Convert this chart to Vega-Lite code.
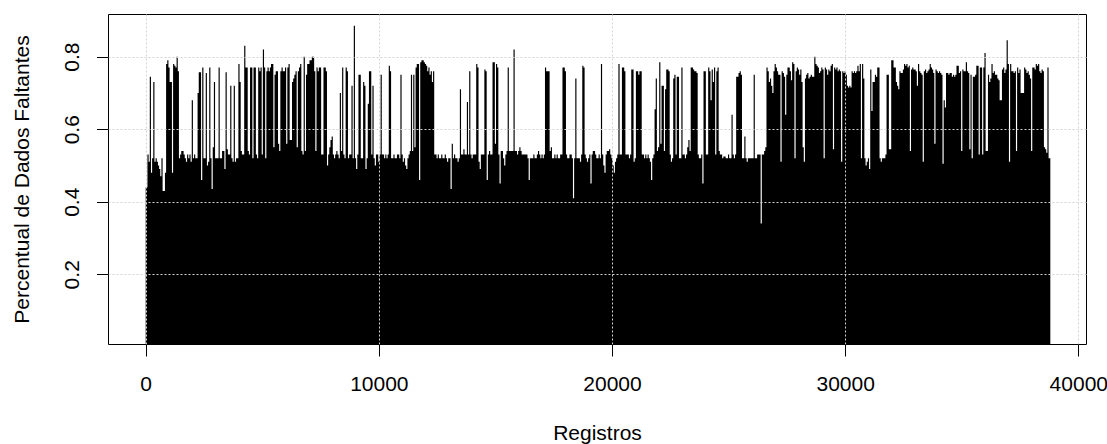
{
  "$schema": "https://vega.github.io/schema/vega-lite/v6.json",
  "width": 978,
  "height": 330,
  "autosize": {"type": "none"},
  "padding": {"left": 108, "top": 14, "right": 21, "bottom": 100},
  "background": "white",
  "config": {
    "view": {"stroke": "black", "strokeWidth": 1},
    "font": "Liberation Sans",
    "axis": {
      "labelFont": "Liberation Sans",
      "labelFontSize": 21,
      "labelColor": "black",
      "titleFont": "Liberation Sans",
      "titleFontSize": 21,
      "titleFontWeight": "normal",
      "titleColor": "black",
      "tickColor": "black",
      "tickWidth": 1,
      "domain": false,
      "grid": true,
      "gridColor": "#D3D3D3",
      "gridDash": [2, 2],
      "gridWidth": 1,
      "labelFlush": false,
      "labelOverlap": false,
      "zindex": 1
    }
  },
  "data": {
    "values": [
      {"reg":0,"pct":0.44},{"reg":50,"pct":0.44},{"reg":100,"pct":0.53},{"reg":150,"pct":0.51},{"reg":200,"pct":0.745},{"reg":250,"pct":0.48},{"reg":300,"pct":0.52},{"reg":350,"pct":0.73},{"reg":400,"pct":0.51},{"reg":450,"pct":0.52},
      {"reg":500,"pct":0.51},{"reg":550,"pct":0.50},{"reg":600,"pct":0.49},{"reg":650,"pct":0.47},{"reg":700,"pct":0.52},{"reg":750,"pct":0.43},{"reg":800,"pct":0.43},{"reg":850,"pct":0.48},{"reg":900,"pct":0.78},{"reg":950,"pct":0.79},
      {"reg":1000,"pct":0.77},{"reg":1050,"pct":0.73},{"reg":1100,"pct":0.73},{"reg":1150,"pct":0.48},{"reg":1200,"pct":0.78},{"reg":1250,"pct":0.775},{"reg":1300,"pct":0.77},{"reg":1350,"pct":0.80},{"reg":1400,"pct":0.76},{"reg":1450,"pct":0.52},
      {"reg":1500,"pct":0.53},{"reg":1550,"pct":0.54},{"reg":1600,"pct":0.54},{"reg":1650,"pct":0.53},{"reg":1700,"pct":0.52},{"reg":1750,"pct":0.51},{"reg":1800,"pct":0.53},{"reg":1850,"pct":0.52},{"reg":1900,"pct":0.53},{"reg":1950,"pct":0.51},
      {"reg":2000,"pct":0.68},{"reg":2050,"pct":0.52},{"reg":2100,"pct":0.53},{"reg":2150,"pct":0.52},{"reg":2200,"pct":0.52},{"reg":2250,"pct":0.70},{"reg":2300,"pct":0.757},{"reg":2350,"pct":0.757},{"reg":2400,"pct":0.46},{"reg":2450,"pct":0.77},
      {"reg":2500,"pct":0.52},{"reg":2550,"pct":0.52},{"reg":2600,"pct":0.755},{"reg":2650,"pct":0.50},{"reg":2700,"pct":0.51},{"reg":2750,"pct":0.77},{"reg":2800,"pct":0.52},{"reg":2850,"pct":0.435},{"reg":2900,"pct":0.55},{"reg":2950,"pct":0.73},
      {"reg":3000,"pct":0.52},{"reg":3050,"pct":0.52},{"reg":3100,"pct":0.52},{"reg":3150,"pct":0.77},{"reg":3200,"pct":0.52},{"reg":3250,"pct":0.52},{"reg":3300,"pct":0.54},{"reg":3350,"pct":0.54},{"reg":3400,"pct":0.49},{"reg":3450,"pct":0.757},
      {"reg":3500,"pct":0.545},{"reg":3550,"pct":0.53},{"reg":3600,"pct":0.53},{"reg":3650,"pct":0.72},
      {"reg":3700,"pct":0.52},{"reg":3750,"pct":0.51},{"reg":3800,"pct":0.72},{"reg":3850,"pct":0.51},{"reg":3900,"pct":0.52},{"reg":3950,"pct":0.52},
      {"reg":4000,"pct":0.78},{"reg":4050,"pct":0.73},{"reg":4100,"pct":0.54},{"reg":4150,"pct":0.53},{"reg":4200,"pct":0.53},{"reg":4250,"pct":0.83},{"reg":4300,"pct":0.77},{"reg":4350,"pct":0.77},{"reg":4400,"pct":0.54},{"reg":4450,"pct":0.53},
      {"reg":4500,"pct":0.77},{"reg":4550,"pct":0.77},{"reg":4600,"pct":0.52},{"reg":4650,"pct":0.77},{"reg":4700,"pct":0.77},{"reg":4750,"pct":0.53},{"reg":4800,"pct":0.52},{"reg":4850,"pct":0.77},{"reg":4900,"pct":0.76},{"reg":4950,"pct":0.77},
      {"reg":5000,"pct":0.53},{"reg":5050,"pct":0.82},{"reg":5100,"pct":0.77},{"reg":5150,"pct":0.52},{"reg":5200,"pct":0.76},{"reg":5250,"pct":0.77},{"reg":5300,"pct":0.76},{"reg":5350,"pct":0.77},{"reg":5400,"pct":0.78},{"reg":5450,"pct":0.78},
      {"reg":5500,"pct":0.55},{"reg":5550,"pct":0.75},{"reg":5600,"pct":0.76},{"reg":5650,"pct":0.76},{"reg":5700,"pct":0.56},{"reg":5750,"pct":0.54},{"reg":5800,"pct":0.76},{"reg":5850,"pct":0.77},{"reg":5900,"pct":0.76},{"reg":5950,"pct":0.76},
      {"reg":6000,"pct":0.77},{"reg":6050,"pct":0.56},{"reg":6100,"pct":0.77},{"reg":6150,"pct":0.78},{"reg":6200,"pct":0.57},{"reg":6250,"pct":0.57},{"reg":6300,"pct":0.73},{"reg":6350,"pct":0.74},{"reg":6400,"pct":0.75},{"reg":6450,"pct":0.76},
      {"reg":6500,"pct":0.55},{"reg":6550,"pct":0.76},{"reg":6600,"pct":0.77},{"reg":6650,"pct":0.78},{"reg":6700,"pct":0.54},{"reg":6750,"pct":0.53},{"reg":6800,"pct":0.80},{"reg":6850,"pct":0.54},{"reg":6900,"pct":0.75},{"reg":6950,"pct":0.78},
      {"reg":7000,"pct":0.78},{"reg":7050,"pct":0.79},{"reg":7100,"pct":0.79},{"reg":7150,"pct":0.80},{"reg":7200,"pct":0.80},{"reg":7250,"pct":0.76},{"reg":7300,"pct":0.54},{"reg":7350,"pct":0.77},{"reg":7400,"pct":0.76},{"reg":7450,"pct":0.77},
      {"reg":7500,"pct":0.77},{"reg":7550,"pct":0.53},{"reg":7600,"pct":0.53},{"reg":7650,"pct":0.77},{"reg":7700,"pct":0.77},{"reg":7750,"pct":0.76},{"reg":7800,"pct":0.50},{"reg":7850,"pct":0.53},{"reg":7900,"pct":0.55},{"reg":7950,"pct":0.57},
      {"reg":8000,"pct":0.58},{"reg":8050,"pct":0.53},{"reg":8100,"pct":0.52},{"reg":8150,"pct":0.53},{"reg":8200,"pct":0.54},{"reg":8250,"pct":0.53},{"reg":8300,"pct":0.52},{"reg":8350,"pct":0.70},{"reg":8400,"pct":0.54},{"reg":8450,"pct":0.77},
      {"reg":8500,"pct":0.53},{"reg":8550,"pct":0.52},{"reg":8600,"pct":0.77},{"reg":8650,"pct":0.76},{"reg":8700,"pct":0.52},{"reg":8750,"pct":0.53},{"reg":8800,"pct":0.53},{"reg":8850,"pct":0.72},{"reg":8900,"pct":0.52},{"reg":8950,"pct":0.885},
      {"reg":9000,"pct":0.52},{"reg":9050,"pct":0.49},{"reg":9100,"pct":0.53},{"reg":9150,"pct":0.75},{"reg":9200,"pct":0.75},{"reg":9250,"pct":0.52},{"reg":9300,"pct":0.52},{"reg":9350,"pct":0.73},{"reg":9400,"pct":0.72},{"reg":9450,"pct":0.49},
      {"reg":9500,"pct":0.52},{"reg":9550,"pct":0.67},{"reg":9600,"pct":0.76},{"reg":9650,"pct":0.76},{"reg":9700,"pct":0.53},{"reg":9750,"pct":0.72},{"reg":9800,"pct":0.52},{"reg":9850,"pct":0.50},{"reg":9900,"pct":0.53},{"reg":9950,"pct":0.53},
      {"reg":10000,"pct":0.51},{"reg":10050,"pct":0.53},{"reg":10100,"pct":0.75},{"reg":10150,"pct":0.53},{"reg":10200,"pct":0.53},{"reg":10250,"pct":0.52},{"reg":10300,"pct":0.53},{"reg":10350,"pct":0.52},{"reg":10400,"pct":0.53},{"reg":10450,"pct":0.775},
      {"reg":10500,"pct":0.76},{"reg":10550,"pct":0.52},{"reg":10600,"pct":0.52},{"reg":10650,"pct":0.53},{"reg":10700,"pct":0.52},{"reg":10750,"pct":0.52},{"reg":10800,"pct":0.53},{"reg":10850,"pct":0.53},{"reg":10900,"pct":0.52},{"reg":10950,"pct":0.75},
      {"reg":11000,"pct":0.53},{"reg":11050,"pct":0.51},{"reg":11100,"pct":0.52},{"reg":11150,"pct":0.50},{"reg":11200,"pct":0.49},{"reg":11250,"pct":0.52},{"reg":11300,"pct":0.53},{"reg":11350,"pct":0.54},{"reg":11400,"pct":0.75},{"reg":11450,"pct":0.54},
      {"reg":11500,"pct":0.75},{"reg":11550,"pct":0.55},{"reg":11600,"pct":0.77},{"reg":11650,"pct":0.78},{"reg":11700,"pct":0.78},{"reg":11750,"pct":0.46},{"reg":11800,"pct":0.785},{"reg":11850,"pct":0.79},{"reg":11900,"pct":0.79},{"reg":11950,"pct":0.785},
      {"reg":12000,"pct":0.78},{"reg":12050,"pct":0.775},{"reg":12100,"pct":0.76},{"reg":12150,"pct":0.77},{"reg":12200,"pct":0.75},{"reg":12250,"pct":0.76},{"reg":12300,"pct":0.73},{"reg":12350,"pct":0.76},{"reg":12400,"pct":0.53},{"reg":12450,"pct":0.53},
      {"reg":12500,"pct":0.52},{"reg":12550,"pct":0.53},{"reg":12600,"pct":0.52},{"reg":12650,"pct":0.52},{"reg":12700,"pct":0.53},{"reg":12750,"pct":0.52},{"reg":12800,"pct":0.52},{"reg":12850,"pct":0.53},{"reg":12900,"pct":0.52},{"reg":12950,"pct":0.51},
      {"reg":13000,"pct":0.52},{"reg":13050,"pct":0.52},{"reg":13100,"pct":0.435},{"reg":13150,"pct":0.56},{"reg":13200,"pct":0.52},{"reg":13250,"pct":0.53},{"reg":13300,"pct":0.52},{"reg":13350,"pct":0.52},{"reg":13400,"pct":0.51},{"reg":13450,"pct":0.52},
      {"reg":13500,"pct":0.71},{"reg":13550,"pct":0.53},{"reg":13600,"pct":0.53},{"reg":13650,"pct":0.545},{"reg":13700,"pct":0.53},{"reg":13750,"pct":0.53},{"reg":13800,"pct":0.675},{"reg":13850,"pct":0.53},{"reg":13900,"pct":0.76},{"reg":13950,"pct":0.53},
      {"reg":14000,"pct":0.52},{"reg":14050,"pct":0.53},{"reg":14100,"pct":0.53},{"reg":14150,"pct":0.53},{"reg":14200,"pct":0.78},{"reg":14250,"pct":0.77},{"reg":14300,"pct":0.51},{"reg":14350,"pct":0.49},{"reg":14400,"pct":0.53},{"reg":14450,"pct":0.53},
      {"reg":14500,"pct":0.53},{"reg":14550,"pct":0.765},{"reg":14600,"pct":0.76},{"reg":14650,"pct":0.46},{"reg":14700,"pct":0.53},{"reg":14750,"pct":0.54},{"reg":14800,"pct":0.53},{"reg":14850,"pct":0.53},{"reg":14900,"pct":0.785},{"reg":14950,"pct":0.785},
      {"reg":15000,"pct":0.56},{"reg":15050,"pct":0.78},{"reg":15100,"pct":0.77},{"reg":15150,"pct":0.53},{"reg":15200,"pct":0.45},{"reg":15250,"pct":0.54},{"reg":15300,"pct":0.54},{"reg":15350,"pct":0.52},{"reg":15400,"pct":0.50},{"reg":15450,"pct":0.53},
      {"reg":15500,"pct":0.54},{"reg":15550,"pct":0.77},{"reg":15600,"pct":0.54},{"reg":15650,"pct":0.54},{"reg":15700,"pct":0.54},{"reg":15750,"pct":0.54},{"reg":15800,"pct":0.82},{"reg":15850,"pct":0.54},{"reg":15900,"pct":0.54},{"reg":15950,"pct":0.53},
      {"reg":16000,"pct":0.54},{"reg":16050,"pct":0.55},{"reg":16100,"pct":0.54},{"reg":16150,"pct":0.53},{"reg":16200,"pct":0.53},{"reg":16250,"pct":0.53},{"reg":16300,"pct":0.53},{"reg":16350,"pct":0.53},{"reg":16400,"pct":0.52},{"reg":16450,"pct":0.46},
      {"reg":16500,"pct":0.52},{"reg":16550,"pct":0.52},{"reg":16600,"pct":0.52},{"reg":16650,"pct":0.53},{"reg":16700,"pct":0.52},{"reg":16750,"pct":0.52},{"reg":16800,"pct":0.53},{"reg":16850,"pct":0.54},{"reg":16900,"pct":0.53},{"reg":16950,"pct":0.52},
      {"reg":17000,"pct":0.53},{"reg":17050,"pct":0.52},{"reg":17100,"pct":0.53},{"reg":17150,"pct":0.77},{"reg":17200,"pct":0.76},{"reg":17250,"pct":0.76},{"reg":17300,"pct":0.76},{"reg":17350,"pct":0.54},{"reg":17400,"pct":0.55},{"reg":17450,"pct":0.52},
      {"reg":17500,"pct":0.52},{"reg":17550,"pct":0.53},{"reg":17600,"pct":0.52},{"reg":17650,"pct":0.53},{"reg":17700,"pct":0.52},{"reg":17750,"pct":0.52},{"reg":17800,"pct":0.53},{"reg":17850,"pct":0.53},{"reg":17900,"pct":0.77},{"reg":17950,"pct":0.77},
      {"reg":18000,"pct":0.76},{"reg":18050,"pct":0.53},{"reg":18100,"pct":0.52},{"reg":18150,"pct":0.52},{"reg":18200,"pct":0.53},{"reg":18250,"pct":0.53},{"reg":18300,"pct":0.52},{"reg":18350,"pct":0.41},{"reg":18400,"pct":0.52},{"reg":18450,"pct":0.74},
      {"reg":18500,"pct":0.52},{"reg":18550,"pct":0.52},{"reg":18600,"pct":0.52},{"reg":18650,"pct":0.51},{"reg":18700,"pct":0.53},{"reg":18750,"pct":0.775},{"reg":18800,"pct":0.77},{"reg":18850,"pct":0.53},{"reg":18900,"pct":0.52},{"reg":18950,"pct":0.51},
      {"reg":19000,"pct":0.52},{"reg":19050,"pct":0.53},{"reg":19100,"pct":0.45},{"reg":19150,"pct":0.53},{"reg":19200,"pct":0.54},{"reg":19250,"pct":0.54},{"reg":19300,"pct":0.53},{"reg":19350,"pct":0.52},{"reg":19400,"pct":0.52},{"reg":19450,"pct":0.53},
      {"reg":19500,"pct":0.52},{"reg":19550,"pct":0.78},{"reg":19600,"pct":0.53},{"reg":19650,"pct":0.50},{"reg":19700,"pct":0.48},{"reg":19750,"pct":0.53},{"reg":19800,"pct":0.54},{"reg":19850,"pct":0.54},{"reg":19900,"pct":0.545},{"reg":19950,"pct":0.53},
      {"reg":20000,"pct":0.52},{"reg":20050,"pct":0.50},{"reg":20100,"pct":0.48},{"reg":20150,"pct":0.51},{"reg":20200,"pct":0.52},{"reg":20250,"pct":0.53},{"reg":20300,"pct":0.78},{"reg":20350,"pct":0.53},{"reg":20400,"pct":0.53},{"reg":20450,"pct":0.77},
      {"reg":20500,"pct":0.77},{"reg":20550,"pct":0.76},{"reg":20600,"pct":0.53},{"reg":20650,"pct":0.53},{"reg":20700,"pct":0.53},{"reg":20750,"pct":0.52},{"reg":20800,"pct":0.53},{"reg":20850,"pct":0.765},{"reg":20900,"pct":0.765},{"reg":20950,"pct":0.51},
      {"reg":21000,"pct":0.52},{"reg":21050,"pct":0.76},{"reg":21100,"pct":0.76},{"reg":21150,"pct":0.75},{"reg":21200,"pct":0.76},{"reg":21250,"pct":0.76},{"reg":21300,"pct":0.53},{"reg":21350,"pct":0.53},{"reg":21400,"pct":0.52},{"reg":21450,"pct":0.53},
      {"reg":21500,"pct":0.52},{"reg":21550,"pct":0.53},{"reg":21600,"pct":0.52},{"reg":21650,"pct":0.51},{"reg":21700,"pct":0.46},{"reg":21750,"pct":0.52},{"reg":21800,"pct":0.53},{"reg":21850,"pct":0.655},{"reg":21900,"pct":0.74},{"reg":21950,"pct":0.54},
      {"reg":22000,"pct":0.55},{"reg":22050,"pct":0.785},{"reg":22100,"pct":0.56},{"reg":22150,"pct":0.72},{"reg":22200,"pct":0.72},{"reg":22250,"pct":0.54},{"reg":22300,"pct":0.71},{"reg":22350,"pct":0.765},{"reg":22400,"pct":0.765},{"reg":22450,"pct":0.76},
      {"reg":22500,"pct":0.53},{"reg":22550,"pct":0.51},{"reg":22600,"pct":0.52},{"reg":22650,"pct":0.74},{"reg":22700,"pct":0.75},{"reg":22750,"pct":0.53},{"reg":22800,"pct":0.745},{"reg":22850,"pct":0.745},{"reg":22900,"pct":0.52},{"reg":22950,"pct":0.52},
      {"reg":23000,"pct":0.77},{"reg":23050,"pct":0.53},{"reg":23100,"pct":0.53},{"reg":23150,"pct":0.52},{"reg":23200,"pct":0.53},{"reg":23250,"pct":0.55},{"reg":23300,"pct":0.57},{"reg":23350,"pct":0.54},{"reg":23400,"pct":0.77},{"reg":23450,"pct":0.77},
      {"reg":23500,"pct":0.765},{"reg":23550,"pct":0.76},{"reg":23600,"pct":0.76},{"reg":23650,"pct":0.755},{"reg":23700,"pct":0.53},{"reg":23750,"pct":0.52},{"reg":23800,"pct":0.52},{"reg":23850,"pct":0.53},{"reg":23900,"pct":0.45},{"reg":23950,"pct":0.76},
      {"reg":24000,"pct":0.76},{"reg":24050,"pct":0.53},{"reg":24100,"pct":0.53},{"reg":24150,"pct":0.77},{"reg":24200,"pct":0.76},{"reg":24250,"pct":0.68},{"reg":24300,"pct":0.765},{"reg":24350,"pct":0.73},{"reg":24400,"pct":0.77},{"reg":24450,"pct":0.53},
      {"reg":24500,"pct":0.76},{"reg":24550,"pct":0.77},{"reg":24600,"pct":0.54},{"reg":24650,"pct":0.53},{"reg":24700,"pct":0.53},{"reg":24750,"pct":0.52},{"reg":24800,"pct":0.525},{"reg":24850,"pct":0.525},{"reg":24900,"pct":0.52},{"reg":24950,"pct":0.52},
      {"reg":25000,"pct":0.53},{"reg":25050,"pct":0.52},{"reg":25100,"pct":0.52},{"reg":25150,"pct":0.64},{"reg":25200,"pct":0.53},{"reg":25250,"pct":0.52},{"reg":25300,"pct":0.53},{"reg":25350,"pct":0.745},{"reg":25400,"pct":0.745},{"reg":25450,"pct":0.755},
      {"reg":25500,"pct":0.76},{"reg":25550,"pct":0.75},{"reg":25600,"pct":0.52},{"reg":25650,"pct":0.52},{"reg":25700,"pct":0.58},{"reg":25750,"pct":0.52},{"reg":25800,"pct":0.51},{"reg":25850,"pct":0.52},{"reg":25900,"pct":0.52},{"reg":25950,"pct":0.52},
      {"reg":26000,"pct":0.52},{"reg":26050,"pct":0.52},{"reg":26100,"pct":0.75},{"reg":26150,"pct":0.52},{"reg":26200,"pct":0.52},{"reg":26250,"pct":0.53},{"reg":26300,"pct":0.53},{"reg":26350,"pct":0.53},{"reg":26400,"pct":0.34},{"reg":26450,"pct":0.53},
      {"reg":26500,"pct":0.53},{"reg":26550,"pct":0.54},{"reg":26600,"pct":0.55},{"reg":26650,"pct":0.77},{"reg":26700,"pct":0.76},{"reg":26750,"pct":0.73},{"reg":26800,"pct":0.74},{"reg":26850,"pct":0.72},{"reg":26900,"pct":0.70},{"reg":26950,"pct":0.76},
      {"reg":27000,"pct":0.78},{"reg":27050,"pct":0.77},{"reg":27100,"pct":0.76},{"reg":27150,"pct":0.75},{"reg":27200,"pct":0.75},{"reg":27250,"pct":0.51},{"reg":27300,"pct":0.76},{"reg":27350,"pct":0.755},{"reg":27400,"pct":0.745},{"reg":27450,"pct":0.64},
      {"reg":27500,"pct":0.75},{"reg":27550,"pct":0.77},{"reg":27600,"pct":0.77},{"reg":27650,"pct":0.76},{"reg":27700,"pct":0.735},{"reg":27750,"pct":0.785},{"reg":27800,"pct":0.78},{"reg":27850,"pct":0.52},{"reg":27900,"pct":0.76},{"reg":27950,"pct":0.77},
      {"reg":28000,"pct":0.765},{"reg":28050,"pct":0.75},{"reg":28100,"pct":0.765},{"reg":28150,"pct":0.73},{"reg":28200,"pct":0.55},{"reg":28250,"pct":0.51},{"reg":28300,"pct":0.74},{"reg":28350,"pct":0.75},{"reg":28400,"pct":0.755},{"reg":28450,"pct":0.74},
      {"reg":28500,"pct":0.745},{"reg":28550,"pct":0.75},{"reg":28600,"pct":0.745},{"reg":28650,"pct":0.745},{"reg":28700,"pct":0.80},{"reg":28750,"pct":0.78},{"reg":28800,"pct":0.775},{"reg":28850,"pct":0.77},{"reg":28900,"pct":0.755},{"reg":28950,"pct":0.76},
      {"reg":29000,"pct":0.77},{"reg":29050,"pct":0.765},{"reg":29100,"pct":0.52},{"reg":29150,"pct":0.77},{"reg":29200,"pct":0.765},{"reg":29250,"pct":0.75},{"reg":29300,"pct":0.765},{"reg":29350,"pct":0.76},{"reg":29400,"pct":0.775},{"reg":29450,"pct":0.78},
      {"reg":29500,"pct":0.545},{"reg":29550,"pct":0.77},{"reg":29600,"pct":0.765},{"reg":29650,"pct":0.77},{"reg":29700,"pct":0.76},{"reg":29750,"pct":0.765},{"reg":29800,"pct":0.76},{"reg":29850,"pct":0.51},{"reg":29900,"pct":0.76},{"reg":29950,"pct":0.755},
      {"reg":30000,"pct":0.76},{"reg":30050,"pct":0.75},{"reg":30100,"pct":0.72},{"reg":30150,"pct":0.715},{"reg":30200,"pct":0.72},{"reg":30250,"pct":0.715},{"reg":30300,"pct":0.76},{"reg":30350,"pct":0.755},{"reg":30400,"pct":0.76},{"reg":30450,"pct":0.755},
      {"reg":30500,"pct":0.76},{"reg":30550,"pct":0.775},{"reg":30600,"pct":0.76},{"reg":30650,"pct":0.78},{"reg":30700,"pct":0.52},{"reg":30750,"pct":0.78},{"reg":30800,"pct":0.74},{"reg":30850,"pct":0.52},{"reg":30900,"pct":0.50},{"reg":30950,"pct":0.51},
      {"reg":31000,"pct":0.52},{"reg":31050,"pct":0.49},{"reg":31100,"pct":0.765},{"reg":31150,"pct":0.65},{"reg":31200,"pct":0.73},{"reg":31250,"pct":0.73},{"reg":31300,"pct":0.75},{"reg":31350,"pct":0.745},{"reg":31400,"pct":0.77},{"reg":31450,"pct":0.77},
      {"reg":31500,"pct":0.52},{"reg":31550,"pct":0.51},{"reg":31600,"pct":0.52},{"reg":31650,"pct":0.52},{"reg":31700,"pct":0.52},{"reg":31750,"pct":0.53},{"reg":31800,"pct":0.75},{"reg":31850,"pct":0.75},{"reg":31900,"pct":0.545},{"reg":31950,"pct":0.545},
      {"reg":32000,"pct":0.79},{"reg":32050,"pct":0.79},{"reg":32100,"pct":0.77},{"reg":32150,"pct":0.77},{"reg":32200,"pct":0.73},{"reg":32250,"pct":0.72},{"reg":32300,"pct":0.71},{"reg":32350,"pct":0.76},{"reg":32400,"pct":0.755},{"reg":32450,"pct":0.755},
      {"reg":32500,"pct":0.765},{"reg":32550,"pct":0.78},{"reg":32600,"pct":0.775},{"reg":32650,"pct":0.78},{"reg":32700,"pct":0.77},{"reg":32750,"pct":0.775},{"reg":32800,"pct":0.54},{"reg":32850,"pct":0.765},{"reg":32900,"pct":0.77},{"reg":32950,"pct":0.765},
      {"reg":33000,"pct":0.765},{"reg":33050,"pct":0.76},{"reg":33100,"pct":0.72},{"reg":33150,"pct":0.78},{"reg":33200,"pct":0.76},{"reg":33250,"pct":0.755},{"reg":33300,"pct":0.75},{"reg":33350,"pct":0.51},{"reg":33400,"pct":0.76},{"reg":33450,"pct":0.765},
      {"reg":33500,"pct":0.755},{"reg":33550,"pct":0.76},{"reg":33600,"pct":0.765},{"reg":33650,"pct":0.78},{"reg":33700,"pct":0.77},{"reg":33750,"pct":0.765},{"reg":33800,"pct":0.755},{"reg":33850,"pct":0.56},{"reg":33900,"pct":0.765},{"reg":33950,"pct":0.76},
      {"reg":34000,"pct":0.755},{"reg":34050,"pct":0.76},{"reg":34100,"pct":0.755},{"reg":34150,"pct":0.75},{"reg":34200,"pct":0.505},{"reg":34250,"pct":0.68},{"reg":34300,"pct":0.66},{"reg":34350,"pct":0.755},{"reg":34400,"pct":0.755},{"reg":34450,"pct":0.75},
      {"reg":34500,"pct":0.755},{"reg":34550,"pct":0.755},{"reg":34600,"pct":0.745},{"reg":34650,"pct":0.75},{"reg":34700,"pct":0.745},{"reg":34750,"pct":0.75},{"reg":34800,"pct":0.775},{"reg":34850,"pct":0.775},{"reg":34900,"pct":0.755},{"reg":34950,"pct":0.76},
      {"reg":35000,"pct":0.54},{"reg":35050,"pct":0.765},{"reg":35100,"pct":0.76},{"reg":35150,"pct":0.76},{"reg":35200,"pct":0.785},{"reg":35250,"pct":0.76},{"reg":35300,"pct":0.755},{"reg":35350,"pct":0.545},{"reg":35400,"pct":0.75},{"reg":35450,"pct":0.52},
      {"reg":35500,"pct":0.745},{"reg":35550,"pct":0.745},{"reg":35600,"pct":0.75},{"reg":35650,"pct":0.775},{"reg":35700,"pct":0.775},{"reg":35750,"pct":0.53},{"reg":35800,"pct":0.77},{"reg":35850,"pct":0.77},{"reg":35900,"pct":0.53},{"reg":35950,"pct":0.77},
      {"reg":36000,"pct":0.81},{"reg":36050,"pct":0.54},{"reg":36100,"pct":0.54},{"reg":36150,"pct":0.75},{"reg":36200,"pct":0.73},{"reg":36250,"pct":0.74},{"reg":36300,"pct":0.78},{"reg":36350,"pct":0.755},{"reg":36400,"pct":0.76},{"reg":36450,"pct":0.75},
      {"reg":36500,"pct":0.75},{"reg":36550,"pct":0.74},{"reg":36600,"pct":0.735},{"reg":36650,"pct":0.68},{"reg":36700,"pct":0.68},{"reg":36750,"pct":0.765},{"reg":36800,"pct":0.77},{"reg":36850,"pct":0.755},{"reg":36900,"pct":0.765},{"reg":36950,"pct":0.845},
      {"reg":37000,"pct":0.78},{"reg":37050,"pct":0.51},{"reg":37100,"pct":0.78},{"reg":37150,"pct":0.76},{"reg":37200,"pct":0.76},{"reg":37250,"pct":0.755},{"reg":37300,"pct":0.76},{"reg":37350,"pct":0.54},{"reg":37400,"pct":0.77},{"reg":37450,"pct":0.755},
      {"reg":37500,"pct":0.765},{"reg":37550,"pct":0.70},{"reg":37600,"pct":0.70},{"reg":37650,"pct":0.70},{"reg":37700,"pct":0.77},{"reg":37750,"pct":0.765},{"reg":37800,"pct":0.755},{"reg":37850,"pct":0.76},{"reg":37900,"pct":0.75},{"reg":37950,"pct":0.74},
      {"reg":38000,"pct":0.54},{"reg":38050,"pct":0.77},{"reg":38100,"pct":0.77},{"reg":38150,"pct":0.765},{"reg":38200,"pct":0.78},{"reg":38250,"pct":0.775},{"reg":38300,"pct":0.78},{"reg":38350,"pct":0.76},{"reg":38400,"pct":0.755},{"reg":38450,"pct":0.765},
      {"reg":38500,"pct":0.76},{"reg":38550,"pct":0.55},{"reg":38600,"pct":0.545},{"reg":38650,"pct":0.535},{"reg":38700,"pct":0.77},{"reg":38750,"pct":0.52},{"reg":38800,"pct":0.52}
    ]
  },
  "mark": {"type": "area", "color": "black", "interpolate": "step", "opacity": 1, "clip": true},
  "encoding": {
    "x": {
      "field": "reg",
      "type": "quantitative",
      "scale": {"domain": [-1617, 40330], "nice": false, "zero": false},
      "axis": {
        "values": [0, 10000, 20000, 30000, 40000],
        "format": "d",
        "tickSize": 12,
        "labelPadding": 17,
        "labelBaseline": "top",
        "zindex": 2,
        "gridColor": "#D3D3D3",
        "title": "Registros",
        "titleX": 489,
        "titleY": 95,
        "titleAlign": "center",
        "titleBaseline": "alphabetic"
      }
    },
    "y": {
      "field": "pct",
      "type": "quantitative",
      "scale": {"domain": [0.0078, 0.9177], "nice": false, "zero": false},
      "axis": {
        "values": [0.2, 0.4, 0.6, 0.8],
        "format": ".1f",
        "tickSize": 11.5,
        "zindex": 2,
        "gridColor": "#D3D3D3",
        "labelAngle": 270,
        "labelAlign": "center",
        "labelBaseline": "bottom",
        "labelPadding": 14,
        "title": "Percentual de Dados Faltantes",
        "titleAngle": 270,
        "titleX": -80,
        "titleY": 165,
        "titleAlign": "center",
        "titleBaseline": "alphabetic"
      }
    },
    "y2": {"datum": 0}
  }
}
